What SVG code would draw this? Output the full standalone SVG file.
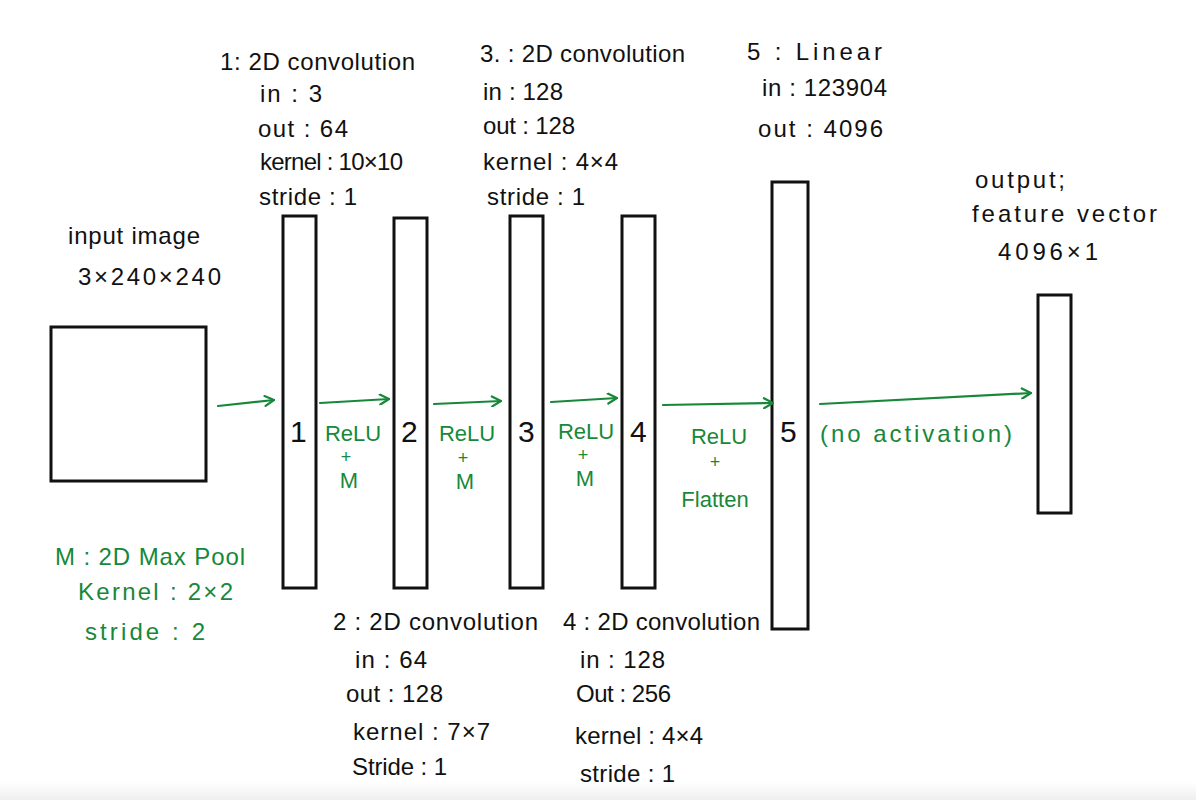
<svg xmlns="http://www.w3.org/2000/svg" width="1196" height="800" viewBox="0 0 1196 800">
<defs>
<style>
.t{font-family:"Liberation Sans","DejaVu Sans",sans-serif;font-size:24px;fill:#111}
.n{font-family:"Liberation Sans","DejaVu Sans",sans-serif;font-size:30px;fill:#111}
.g{font-family:"Liberation Sans","DejaVu Sans",sans-serif;font-size:24px;fill:#17883a}
.gl{font-family:"Liberation Sans","DejaVu Sans",sans-serif;font-size:22px;fill:#17883a;text-anchor:middle}
.gp{font-family:"Liberation Sans","DejaVu Sans",sans-serif;font-size:18px;fill:#17883a;text-anchor:middle}
.box{fill:#fff;stroke:#111;stroke-width:3}
.arr{fill:none;stroke:#17883a;stroke-width:2.2;stroke-linecap:round;marker-end:url(#ah)}
</style>
<marker id="ah" viewBox="0 0 12 12" refX="11" refY="6" markerWidth="12" markerHeight="12" markerUnits="userSpaceOnUse" orient="auto">
<polyline points="2,1 11,6 2,11" fill="none" stroke="#17883a" stroke-width="2.2" stroke-linecap="round" stroke-linejoin="round"/>
</marker>
<linearGradient id="bot" x1="0" y1="0" x2="0" y2="1">
<stop offset="0" stop-color="#ffffff"/>
<stop offset="1" stop-color="#eeeeee"/>
</linearGradient>
</defs>
<rect x="0" y="0" width="1196" height="800" fill="#fff"/>
<rect x="0" y="782" width="1196" height="18" fill="url(#bot)"/>

<g id="input">
<rect class="box" x="51" y="327" width="155" height="154"/>
<text class="t" x="68" y="244" textLength="132">input image</text>
<text class="t" x="78" y="285" textLength="143">3×240×240</text>
</g>

<g id="layer1">
<rect class="box" x="283" y="216" width="33" height="372"/>
<text class="n" x="290" y="442">1</text>
<text class="t" x="220" y="70" textLength="195">1: 2D convolution</text>
<text class="t" x="260" y="102" textLength="62">in : 3</text>
<text class="t" x="258" y="137" textLength="90">out : 64</text>
<text class="t" x="260" y="170" textLength="143">kernel : 10×10</text>
<text class="t" x="259" y="205" textLength="98">stride : 1</text>
</g>

<g id="layer2">
<rect class="box" x="394" y="218" width="33" height="370"/>
<text class="n" x="401" y="442">2</text>
<text class="t" x="333" y="630" textLength="205">2 : 2D convolution</text>
<text class="t" x="355" y="668" textLength="72">in : 64</text>
<text class="t" x="346" y="702" textLength="97">out : 128</text>
<text class="t" x="353" y="740" textLength="137">kernel : 7×7</text>
<text class="t" x="352" y="775" textLength="95">Stride : 1</text>
</g>

<g id="layer3">
<rect class="box" x="510" y="216" width="33" height="372"/>
<text class="n" x="518" y="442">3</text>
<text class="t" x="480" y="62" textLength="205">3. : 2D convolution</text>
<text class="t" x="483" y="100" textLength="80">in : 128</text>
<text class="t" x="483" y="134" textLength="92">out : 128</text>
<text class="t" x="483" y="170" textLength="135">kernel : 4×4</text>
<text class="t" x="487" y="205" textLength="98">stride : 1</text>
</g>

<g id="layer4">
<rect class="box" x="622" y="216" width="33" height="372"/>
<text class="n" x="630" y="442">4</text>
<text class="t" x="563" y="630" textLength="197">4 : 2D convolution</text>
<text class="t" x="580" y="668" textLength="85">in : 128</text>
<text class="t" x="576" y="702" textLength="95">Out : 256</text>
<text class="t" x="575" y="744" textLength="128">kernel : 4×4</text>
<text class="t" x="580" y="782" textLength="95">stride : 1</text>
</g>

<g id="layer5">
<rect class="box" x="772" y="182" width="36" height="447"/>
<text class="n" x="780" y="442">5</text>
<text class="t" x="747" y="60" textLength="135">5 : Linear</text>
<text class="t" x="762" y="96" textLength="125">in : 123904</text>
<text class="t" x="758" y="137" textLength="125">out : 4096</text>
</g>

<g id="output">
<rect class="box" x="1038" y="295" width="33" height="218"/>
<text class="t" x="975" y="188" textLength="90">output;</text>
<text class="t" x="972" y="222" textLength="185">feature vector</text>
<text class="t" x="998" y="260" textLength="100">4096×1</text>
</g>

<g id="maxpool-legend">
<text class="g" x="55" y="565" textLength="190">M : 2D Max Pool</text>
<text class="g" x="78" y="600" textLength="155">Kernel : 2×2</text>
<text class="g" x="85" y="640" textLength="120">stride : 2</text>
</g>

<g id="connectors">
<path class="arr" d="M218,406 Q245,403 274,400"/>
<path class="arr" d="M320,403 L389,399"/>
<path class="arr" d="M434,404 L501,401"/>
<path class="arr" d="M551,402 L617,398"/>
<path class="arr" d="M663,405 L773,403"/>
<path class="arr" d="M820,404 L1031,393"/>
</g>

<g id="edge-labels">
<text class="gl" x="353" y="441">ReLU</text>
<text class="gp" x="346" y="463">+</text>
<text class="gl" x="349" y="488">M</text>
<text class="gl" x="467" y="441">ReLU</text>
<text class="gp" x="463" y="464">+</text>
<text class="gl" x="465" y="489">M</text>
<text class="gl" x="586" y="439">ReLU</text>
<text class="gp" x="583" y="461">+</text>
<text class="gl" x="585" y="486">M</text>
<text class="gl" x="719" y="444">ReLU</text>
<text class="gp" x="715" y="468">+</text>
<text class="gl" x="715" y="507">Flatten</text>
<text class="g" x="820" y="442" textLength="192">(no activation)</text>
</g>
</svg>
